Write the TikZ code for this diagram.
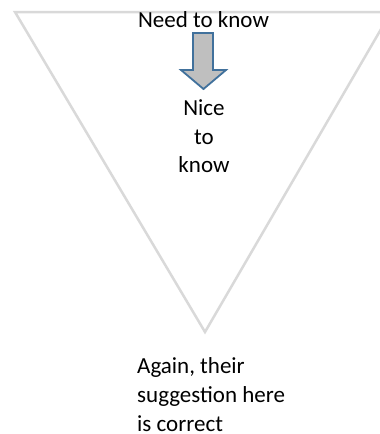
\documentclass[tikz,border=0pt]{standalone}
\usepackage{fontspec}
\setmainfont{Carlito}
\definecolor{trigray}{HTML}{D9D9D9}
\definecolor{arrowfill}{HTML}{BFBFBF}
\definecolor{arrowline}{HTML}{41719C}
\begin{document}
\begin{tikzpicture}[x=1pt,y=-1pt,
  lbl/.style={inner sep=0pt,font=\fontsize{23}{29}\selectfont,text=black}]
\useasboundingbox (0,0) rectangle (380,434);
\begin{scope}
\clip (0,0) rectangle (380,434);
\draw[trigray,line width=2.5pt,line join=miter] (15,12) -- (391,12) -- (205,332) -- cycle;
\end{scope}
\draw[arrowline,fill=arrowfill,line width=1.8pt,line join=miter]
  (193,33) -- (213,33) -- (213,70) -- (226,70) -- (203.5,89) -- (181,70) -- (193,70) -- cycle;
\node[lbl,anchor=base] (need) at (203.5,27) {Need to know};
\node[lbl,anchor=base] (nice) at (204,115) {Nice};
\node[lbl,anchor=base] (to) at (204,144) {to};
\node[lbl,anchor=base] (know) at (204,172) {know};
\node[lbl,anchor=base west] (again) at (137,373) {Again, their};
\node[lbl,anchor=base west] (sugg) at (137,402) {suggestion here};
\node[lbl,anchor=base west] (corr) at (137,431) {is correct};
\end{tikzpicture}
\end{document}
